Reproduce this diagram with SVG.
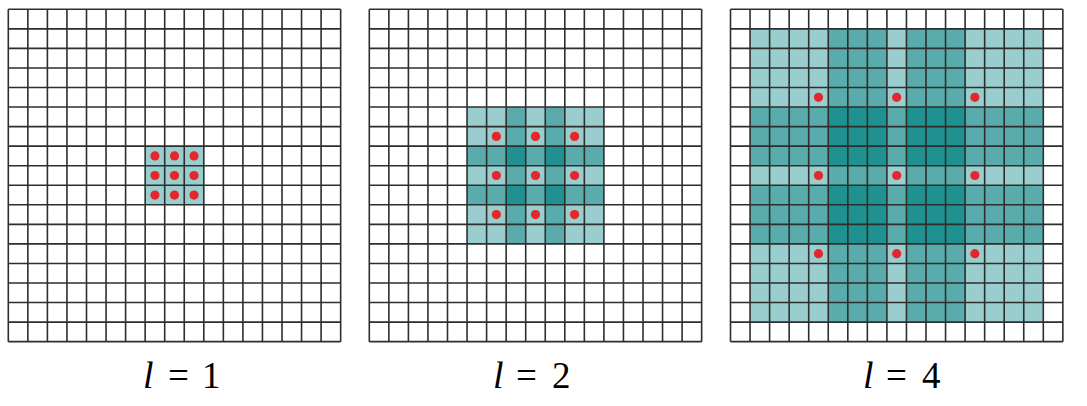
<svg xmlns="http://www.w3.org/2000/svg" xmlns:xlink="http://www.w3.org/1999/xlink" width="1087" height="406" viewBox="0 0 1087 406">
<style>
.l1{fill:#9acdcd}
.l2{fill:#5aabab}
.l3{fill:#1f9191}
.dot{fill:#e5262b}
.grid{fill:none;stroke:#2e2e2e;stroke-width:1.6}
.lab{font-family:"Liberation Serif","DejaVu Serif",serif;font-size:37px;fill:#000}
.it{font-style:italic;font-size:38px}
</style>
<defs>
<path id="gridlines" class="grid" d="M0 0V332.35M19.55 0V332.35M39.1 0V332.35M58.65 0V332.35M78.2 0V332.35M97.75 0V332.35M117.3 0V332.35M136.85 0V332.35M156.4 0V332.35M175.95 0V332.35M195.5 0V332.35M215.05 0V332.35M234.6 0V332.35M254.15 0V332.35M273.7 0V332.35M293.25 0V332.35M312.8 0V332.35M332.35 0V332.35M0 0H332.35M0 19.55H332.35M0 39.1H332.35M0 58.65H332.35M0 78.2H332.35M0 97.75H332.35M0 117.3H332.35M0 136.85H332.35M0 156.4H332.35M0 175.95H332.35M0 195.5H332.35M0 215.05H332.35M0 234.6H332.35M0 254.15H332.35M0 273.7H332.35M0 293.25H332.35M0 312.8H332.35M0 332.35H332.35"/>
<circle id="d" class="dot" r="4.6"/>
</defs>
<rect width="1087" height="406" fill="#fff"/>

<g id="grid-l1" transform="translate(8.3,9.3)">
<rect class="l1" x="136.85" y="136.85" width="58.65" height="58.65"/>
<use xlink:href="#gridlines" href="#gridlines"/>
<use href="#d" x="146.625" y="146.625"/><use href="#d" x="166.175" y="146.625"/><use href="#d" x="185.725" y="146.625"/>
<use href="#d" x="146.625" y="166.175"/><use href="#d" x="166.175" y="166.175"/><use href="#d" x="185.725" y="166.175"/>
<use href="#d" x="146.625" y="185.725"/><use href="#d" x="166.175" y="185.725"/><use href="#d" x="185.725" y="185.725"/>
</g>

<g id="grid-l2" transform="translate(369.3,9.3)">
<rect class="l1" x="97.75" y="97.75" width="136.85" height="136.85"/>
<rect class="l2" x="136.85" y="97.75" width="19.55" height="136.85"/>
<rect class="l2" x="175.95" y="97.75" width="19.55" height="136.85"/>
<rect class="l2" x="97.75" y="136.85" width="136.85" height="19.55"/>
<rect class="l2" x="97.75" y="175.95" width="136.85" height="19.55"/>
<rect class="l3" x="136.85" y="136.85" width="19.55" height="19.55"/>
<rect class="l3" x="175.95" y="136.85" width="19.55" height="19.55"/>
<rect class="l3" x="136.85" y="175.95" width="19.55" height="19.55"/>
<rect class="l3" x="175.95" y="175.95" width="19.55" height="19.55"/>
<use href="#gridlines"/>
<use href="#d" x="127.075" y="127.075"/><use href="#d" x="166.175" y="127.075"/><use href="#d" x="205.275" y="127.075"/>
<use href="#d" x="127.075" y="166.175"/><use href="#d" x="166.175" y="166.175"/><use href="#d" x="205.275" y="166.175"/>
<use href="#d" x="127.075" y="205.275"/><use href="#d" x="166.175" y="205.275"/><use href="#d" x="205.275" y="205.275"/>
</g>

<g id="grid-l4" transform="translate(730.5,9.3)">
<rect class="l1" x="19.55" y="19.55" width="293.25" height="293.25"/>
<rect class="l2" x="97.75" y="19.55" width="58.65" height="293.25"/>
<rect class="l2" x="175.95" y="19.55" width="58.65" height="293.25"/>
<rect class="l2" x="19.55" y="97.75" width="293.25" height="58.65"/>
<rect class="l2" x="19.55" y="175.95" width="293.25" height="58.65"/>
<rect class="l3" x="97.75" y="97.75" width="58.65" height="58.65"/>
<rect class="l3" x="175.95" y="97.75" width="58.65" height="58.65"/>
<rect class="l3" x="97.75" y="175.95" width="58.65" height="58.65"/>
<rect class="l3" x="175.95" y="175.95" width="58.65" height="58.65"/>
<use href="#gridlines"/>
<use href="#d" x="87.975" y="87.975"/><use href="#d" x="166.175" y="87.975"/><use href="#d" x="244.375" y="87.975"/>
<use href="#d" x="87.975" y="166.175"/><use href="#d" x="166.175" y="166.175"/><use href="#d" x="244.375" y="166.175"/>
<use href="#d" x="87.975" y="244.375"/><use href="#d" x="166.175" y="244.375"/><use href="#d" x="244.375" y="244.375"/>
</g>

<g id="labels">
<text class="lab" y="388"><tspan class="it" x="143">l</tspan><tspan x="168">=</tspan><tspan x="202">1</tspan></text>
<text class="lab" y="388"><tspan class="it" x="493">l</tspan><tspan x="516">=</tspan><tspan x="552">2</tspan></text>
<text class="lab" y="388"><tspan class="it" x="863">l</tspan><tspan x="886">=</tspan><tspan x="922">4</tspan></text>
</g>
</svg>
